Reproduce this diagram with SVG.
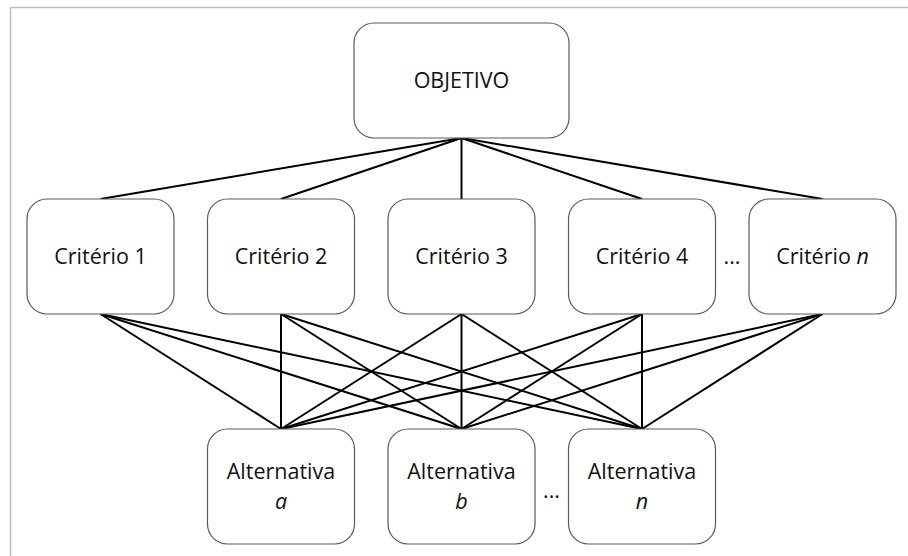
<svg xmlns="http://www.w3.org/2000/svg" width="908" height="556" viewBox="0 0 908 556">
<style>
.box{fill:#fff;stroke:#595959;stroke-width:1.2}
.t{font-family:"Open Sans","Liberation Sans",sans-serif;font-size:21.5px;fill:#111;text-anchor:middle}
.c line{stroke:#000;stroke-width:2}
</style>
<rect width="908" height="556" fill="#fff"/>
<path d="M10.5 556 V7.5 H908" fill="none" stroke="#bdbdbd" stroke-width="1.5"/>
<g class="c" id="connectors">
<line x1="461.5" y1="138" x2="100.5" y2="199"/>
<line x1="461.5" y1="138" x2="281" y2="199"/>
<line x1="461.5" y1="138" x2="461.5" y2="199"/>
<line x1="461.5" y1="138" x2="642" y2="199"/>
<line x1="461.5" y1="138" x2="822.5" y2="199"/>
<line x1="100.5" y1="314" x2="281" y2="429"/>
<line x1="100.5" y1="314" x2="461.5" y2="429"/>
<line x1="100.5" y1="314" x2="642" y2="429"/>
<line x1="281" y1="314" x2="281" y2="429"/>
<line x1="281" y1="314" x2="461.5" y2="429"/>
<line x1="281" y1="314" x2="642" y2="429"/>
<line x1="461.5" y1="314" x2="281" y2="429"/>
<line x1="461.5" y1="314" x2="461.5" y2="429"/>
<line x1="461.5" y1="314" x2="642" y2="429"/>
<line x1="642" y1="314" x2="281" y2="429"/>
<line x1="642" y1="314" x2="461.5" y2="429"/>
<line x1="642" y1="314" x2="642" y2="429"/>
<line x1="822.5" y1="314" x2="281" y2="429"/>
<line x1="822.5" y1="314" x2="461.5" y2="429"/>
<line x1="822.5" y1="314" x2="642" y2="429"/>
</g>
<g id="objetivo"><rect class="box" x="354" y="23" width="215" height="115" rx="20"/><text class="t" x="461.5" y="88">OBJETIVO</text></g>
<g id="criterio1"><rect class="box" x="27" y="199" width="147" height="115" rx="20"/><text class="t" x="100.5" y="264">Critério 1</text></g>
<g id="criterio2"><rect class="box" x="207.5" y="199" width="147" height="115" rx="20"/><text class="t" x="281" y="264">Critério 2</text></g>
<g id="criterio3"><rect class="box" x="388" y="199" width="147" height="115" rx="20"/><text class="t" x="461.5" y="264">Critério 3</text></g>
<g id="criterio4"><rect class="box" x="568.5" y="199" width="147" height="115" rx="20"/><text class="t" x="642" y="264">Critério 4</text></g>
<g id="criterion"><rect class="box" x="749" y="199" width="147" height="115" rx="20"/><text class="t" x="822.5" y="264">Critério <tspan font-style="italic">n</tspan></text></g>
<text class="t" x="732" y="264">...</text>
<g id="alternativaa"><rect class="box" x="207.5" y="429" width="147" height="115" rx="20"/><text class="t" x="281" y="479">Alternativa</text><text class="t" x="281" y="509" font-style="italic">a</text></g>
<g id="alternativab"><rect class="box" x="388" y="429" width="147" height="115" rx="20"/><text class="t" x="461.5" y="479">Alternativa</text><text class="t" x="461.5" y="509" font-style="italic">b</text></g>
<g id="alternativan"><rect class="box" x="568.5" y="429" width="147" height="115" rx="20"/><text class="t" x="642" y="479">Alternativa</text><text class="t" x="642" y="509" font-style="italic">n</text></g>
<text class="t" x="551.5" y="498">...</text>
</svg>
